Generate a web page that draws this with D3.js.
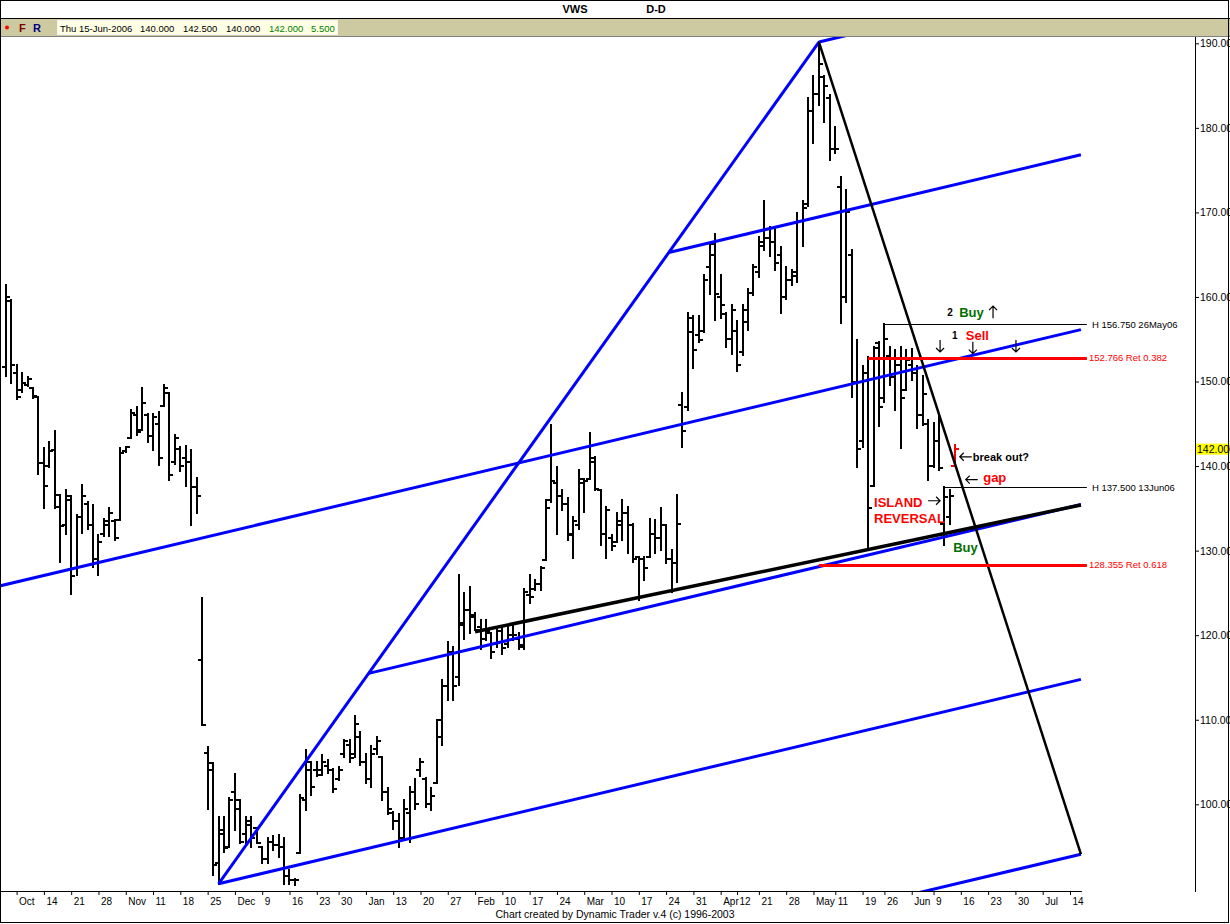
<!DOCTYPE html>
<html><head><meta charset="utf-8"><title>VWS D-D</title>
<script src="https://cdn.jsdelivr.net/npm/d3@7/dist/d3.min.js"></script>
<style>
html,body{margin:0;padding:0;background:#fff;}
svg{display:block;}
text{font-family:"Liberation Sans",Arial,"DejaVu Sans",sans-serif;}
</style></head><body>
<svg id="chart" width="1230" height="924"></svg>
<script>
// ================= DATA =================
const symbol = "VWS";
const period = "D-D";
const headerDate = "Thu 15-Jun-2006";
const headerValues = ["140.000", "142.500", "140.000", "142.000", "5.500"];
const footer = "Chart created by Dynamic Trader v.4  (c) 1996-2003";

const firstDate = "2005-10-05";
const lastCalendarDate = "2006-07-31";
const holidays = ["2005-12-26", "2006-04-13", "2006-04-14", "2006-04-17", "2006-05-12", "2006-05-25", "2006-06-05"];

// daily bars [open, high, low, close], one per trading day from firstDate
const ohlc = [
[151.7,161.4,150.6,160.0],[159.5,159.7,149.8,152.0],[151.0,152.0,147.9,148.2],[149.0,151.0,148.8,149.8],
[149.6,150.5,149.5,150.3],[149.2,149.2,148.0,148.3],[148.2,148.2,139.1,140.4],[140.4,142.1,135.1,137.7],
[140.0,142.8,139.9,141.8],[141.9,144.1,135.1,136.6],[135.2,136.6,128.6,132.9],[133.0,137.2,132.0,136.5],
[136.0,136.5,124.9,127.0],[128.0,134.2,127.1,134.0],[134.0,137.8,132.1,136.5],[135.5,135.8,132.5,133.0],
[133.0,135.4,128.1,129.0],[129.0,131.9,127.1,131.0],[132.0,133.8,131.7,133.5],[133.0,135.0,131.7,134.5],
[133.5,133.6,131.3,131.5],[133.6,142.1,133.6,141.6],[141.8,142.3,141.7,142.2],[143.3,146.6,143.3,146.3],
[146.0,147.0,143.7,144.0],[144.3,149.2,144.3,147.5],[146.0,146.2,142.9,143.5],[143.5,146.2,141.9,145.8],
[145.0,146.4,140.1,141.0],[147.1,149.6,147.1,149.2],[148.7,148.7,138.4,139.0],[140.5,143.7,140.3,143.3],
[142.0,142.3,139.4,140.0],[141.0,142.4,137.6,140.5],[140.5,141.9,133.0,137.5],[137.5,138.6,134.5,136.5],
[117.1,124.4,109.4,109.4],[106.1,106.8,99.5,104.0],[104.9,104.9,91.6,92.8],[93.0,98.5,90.6,96.5],
[97.0,98.5,94.4,94.8],[95.0,100.8,95.0,100.5],[101.5,103.6,97.0,99.5],[100.5,100.5,95.4,95.6],
[96.5,98.5,95.2,98.0],[97.5,98.5,95.0,96.0],[97.2,97.2,95.4,95.4],[95.0,95.0,93.0,93.5],
[93.5,96.0,93.0,95.5],[95.5,96.2,94.6,95.2],[95.2,96.4,93.8,95.0],[95.0,96.0,90.6,91.5],
[91.5,92.2,90.6,91.0],[91.0,91.2,90.5,91.0],[94.2,101.1,94.2,100.8],[100.5,106.4,99.3,105.0],
[104.0,105.0,101.1,102.0],[104.0,105.0,103.3,103.5],[104.0,105.8,103.5,105.0],[104.5,105.2,103.7,104.0],
[104.0,104.2,101.5,101.8],[103.0,104.4,102.9,104.0],[106.0,107.6,105.6,107.5],[107.0,107.6,105.0,105.5],
[106.0,110.4,105.6,109.5],[108.0,108.6,104.6,105.0],[105.0,106.0,102.5,103.0],[103.0,106.9,102.1,106.0],
[106.5,108.0,106.0,107.5],[105.6,105.6,100.5,101.5],[101.5,101.9,98.9,99.5],[99.0,99.1,97.1,98.0],
[98.0,98.9,95.0,96.0],[96.0,100.5,95.8,99.5],[99.0,102.1,95.6,101.5],[101.5,103.0,99.5,100.0],
[104.0,105.4,103.3,105.0],[103.0,103.1,99.7,100.0],[100.0,101.9,99.3,101.0],[102.5,110.0,102.5,110.0],
[108.0,114.7,107.0,114.0],[114.0,119.2,112.3,118.0],[118.0,118.6,112.3,114.0],[115.0,127.1,114.1,121.2],
[121.5,125.0,119.6,123.0],[123.0,125.7,120.2,122.4],[122.2,122.6,120.6,120.6],[121.0,121.8,118.4,119.5],
[119.5,121.8,119.4,120.5],[120.2,120.2,117.3,118.0],[119.0,121.0,118.6,120.5],[120.5,121.0,117.8,118.5],
[119.0,121.0,118.6,120.0],[120.0,121.1,119.4,120.0],[119.5,120.2,118.4,118.8],[118.6,125.5,118.4,125.1],
[124.8,127.1,123.8,124.5],[125.5,126.5,125.3,126.0],[126.0,128.1,125.3,128.0],[128.9,136.0,128.9,135.0],
[136.0,144.9,135.8,138.2],[138.0,139.9,132.0,136.5],[136.5,137.2,134.8,135.5],[135.5,136.2,131.3,131.8],
[132.0,134.0,129.1,133.5],[133.0,139.5,132.6,138.5],[138.0,138.5,134.6,138.2],[138.5,143.9,138.5,141.0],
[140.5,141.1,137.2,137.3],[137.2,137.2,130.7,132.0],[132.0,135.2,129.1,134.8],[131.5,131.8,130.1,130.5],
[131.0,134.5,131.0,133.5],[133.0,136.0,131.3,134.5],[134.5,135.2,129.7,133.0],[133.0,133.2,128.7,129.0],
[129.3,129.3,124.2,129.0],[129.0,129.3,126.5,128.0],[129.3,133.8,129.3,132.0],[132.0,133.6,129.7,131.5],
[131.5,135.0,130.1,133.0],[133.0,133.0,128.5,129.0],[129.0,130.1,125.1,128.5],[128.5,136.6,126.3,133.2],
[147.2,148.6,142.3,144.1],[147.0,158.1,146.6,157.5],[155.9,157.7,151.6,153.7],[155.5,157.7,154.7,154.9],
[156.0,162.6,155.9,162.0],[163.5,166.3,160.4,165.0],[166.3,167.4,157.3,160.4],[160.0,162.6,157.5,159.0],
[158.0,158.1,154.1,155.0],[155.0,159.1,153.3,158.5],[156.0,157.1,151.2,152.0],[153.5,159.1,153.1,158.5],
[157.0,161.0,156.1,160.5],[160.5,163.8,160.2,163.5],[163.0,167.1,162.4,166.5],[166.0,171.3,165.6,167.0],
[167.0,168.3,164.8,166.5],[166.5,168.3,163.2,164.0],[165.0,165.9,158.1,160.0],[160.0,163.6,159.8,162.0],
[162.0,163.2,161.4,162.5],[163.0,169.9,161.8,169.0],[169.0,171.3,166.0,170.5],[171.0,183.5,170.7,182.0],
[182.0,186.1,178.2,184.0],[184.0,190.2,182.7,187.5],[186.0,186.1,180.7,185.0],[183.5,183.9,176.2,177.5],
[177.5,180.1,177.0,177.5],[173.0,174.2,156.9,160.0],[160.0,172.6,159.4,170.0],[165.0,165.6,148.2,150.0],
[150.0,154.9,139.9,142.0],[143.0,151.8,142.3,151.0],[151.0,152.9,130.1,135.0],[137.6,154.1,137.6,154.0],
[154.5,154.7,144.7,147.0],[148.0,156.75,147.6,155.0],[153.0,154.1,149.6,150.5],[150.5,153.7,146.6,152.0],
[152.0,154.1,142.1,148.0],[149.0,153.7,149.0,152.5],[152.0,153.9,150.2,151.0],[151.0,151.8,144.5,146.0],
[146.0,150.6,144.9,148.5],[145.0,145.5,138.4,140.0],[140.0,145.1,139.9,143.0],[143.0,145.9,139.5,139.8],
[133.2,137.5,130.7,136.3],[134.0,137.2,133.2,136.5],[140.0,142.5,140.0,142.0]
];

const priceTicks = [100, 110, 120, 130, 140, 150, 160, 170, 180, 190];
const lastPrice = 142.0;

const dateTicks = ["2005-10-07","2005-10-14","2005-10-21","2005-10-28","2005-11-04","2005-11-11","2005-11-18","2005-11-25",
  "2005-12-02","2005-12-09","2005-12-16","2005-12-23","2005-12-30","2006-01-06","2006-01-13","2006-01-20","2006-01-27",
  "2006-02-03","2006-02-10","2006-02-17","2006-02-24","2006-03-03","2006-03-10","2006-03-17","2006-03-24","2006-03-31",
  "2006-04-07","2006-04-12","2006-04-21","2006-04-28","2006-05-05","2006-05-11","2006-05-19","2006-05-26",
  "2006-06-02","2006-06-09","2006-06-16","2006-06-23","2006-06-30","2006-07-07","2006-07-14"];
const dateTickLabels = ["Oct","14","21","28","Nov","11","18","25","Dec","9","16","23","30","Jan","13","20","27",
  "Feb","10","17","24","Mar","10","17","24","31","Apr","12","21","28","May","11","19","26","Jun","9","16","23","30","Jul","14"];

// drawing tools (date, price)
const channelLow = ["2005-11-29", 90.6];
const channelHigh = ["2006-05-08", 190.15];
const channelSlope = 0.153;            // price per trading day
const channelLevels = [0, 1, 2, 3, 4, 5];
const channelStart = ["high", "fan", "left", "fan", "low", "left"];
const toolsEnd = "2006-07-18";
const trendLine = [["2006-02-03", 120.4], ["2006-07-18", 135.4]];
const retracements = [
  {value: 152.766, label: "152.766 Ret 0.382", from: "2006-05-22"},
  {value: 128.355, label: "128.355 Ret 0.618", from: "2006-05-08"}];
const highMarks = [
  {value: 156.75, label: "H 156.750 26May06", from: "2006-05-26"},
  {value: 137.5, label: "H 137.500 13Jun06", from: "2006-06-13"}];

// text notes: [text, trading-day index, price, colour, size, weight]
const notes = [
  ["2", 172.5, 157.7, "#000", 10, "bold"],
  ["Buy", 174.7, 157.6, "#007000", 13, "bold"],
  ["1", 173.4, 155.0, "#000", 10, "bold"],
  ["Sell", 175.9, 154.9, "#ff0000", 13, "bold"],
  ["ISLAND", 159.1, 135.2, "#ff0000", 13, "bold"],
  ["REVERSAL", 159.1, 133.3, "#ff0000", 13, "bold"],
  ["break out?", 177.2, 140.6, "#000", 11, "bold"],
  ["gap", 179.1, 138.1, "#ff0000", 13, "bold"],
  ["Buy", 173.6, 129.8, "#007000", 13, "bold"]
];
// arrows: [direction, trading-day index, price (centre)]
const arrows = [
  ["up", 180.9, 158.2], ["down", 171.2, 154.2], ["down", 177.2, 154.0], ["down", 185.1, 154.2],
  ["right", 170.1, 135.9], ["left", 175.9, 141.1], ["left", 177.0, 138.4]
];

// ================= LAYOUT =================
const svg = d3.select("#chart");
const plot = {left: 1, top: 37, right: 1195, bottom: 891};

// trading-day calendar
const days = [];
{
  let t = Date.parse(firstDate + "T00:00:00Z");
  const end = Date.parse(lastCalendarDate + "T00:00:00Z");
  while (t <= end) {
    const d = new Date(t);
    const s = d.toISOString().slice(0, 10);
    const w = d.getUTCDay();
    if (w !== 0 && w !== 6 && !holidays.includes(s)) days.push(s);
    t += 86400000;
  }
}
const dayIndex = new Map(days.map((d, i) => [d, i]));
const di = s => dayIndex.get(s);

const x = d3.scaleLinear().domain([0, 190]).range([5.68, 5.68 + 190 * 5.458]);
const y = d3.scaleLinear().domain([100, 190]).range([804.3, 43.3]);

// background
svg.append("rect").attr("width", 1230).attr("height", 924).attr("fill", "#fff");

// header
svg.append("text").attr("x", 575).attr("y", 13).attr("text-anchor", "middle")
  .attr("font-size", 11).attr("font-weight", "bold").text(symbol);
svg.append("text").attr("x", 656).attr("y", 13).attr("text-anchor", "middle")
  .attr("font-size", 11).attr("font-weight", "bold").text(period);
svg.append("rect").attr("x", 0).attr("y", 19).attr("width", 1230).attr("height", 17).attr("fill", "#cdc9a1");
svg.append("line").attr("x1", 0).attr("x2", 1230).attr("y1", 18.5).attr("y2", 18.5).attr("stroke", "#000");
svg.append("line").attr("x1", 0).attr("x2", 1230).attr("y1", 36.5).attr("y2", 36.5).attr("stroke", "#808080");
svg.append("rect").attr("x", 57.5).attr("y", 20.5).attr("width", 280).attr("height", 14)
  .attr("fill", "#ffffe6").attr("stroke", "#f4f4f4");
svg.append("circle").attr("cx", 7).attr("cy", 27.5).attr("r", 2).attr("fill", "#ff0000");
svg.append("text").attr("x", 19).attr("y", 32).attr("font-size", 11).attr("font-weight", "bold").attr("fill", "#800000").text("F");
svg.append("text").attr("x", 33).attr("y", 32).attr("font-size", 11).attr("font-weight", "bold").attr("fill", "#000080").text("R");
const hdr = svg.append("text").attr("x", 60).attr("y", 31.5).attr("font-size", 9.5);
hdr.append("tspan").attr("fill", "#000").text(headerDate);
const hx = [140, 183, 226, 269, 311];
headerValues.forEach((v, i) => hdr.append("tspan").attr("x", hx[i]).attr("fill", i >= 3 ? "#008000" : "#000").text(v));

// clip
svg.append("clipPath").attr("id", "plotclip").append("rect")
  .attr("x", plot.left).attr("y", plot.top).attr("width", plot.right - plot.left).attr("height", plot.bottom - plot.top);
const P = svg.append("g").attr("clip-path", "url(#plotclip)");

// bars
const bars = ohlc.map((d, j) => ({j, o: d[0], h: d[1], l: d[2], c: d[3]}));
const gb = P.append("g").attr("shape-rendering", "crispEdges");
bars.forEach((d, k) => {
  const X = Math.round(x(d.j));
  const col = k === bars.length - 1 ? "#ff0000" : "#000";
  gb.append("line").attr("x1", X).attr("x2", X).attr("y1", y(d.h) - 1).attr("y2", y(d.l) + 1).attr("stroke", col).attr("stroke-width", 2);
  gb.append("line").attr("x1", X - 4).attr("x2", X).attr("y1", Math.round(y(d.o))).attr("y2", Math.round(y(d.o))).attr("stroke", col).attr("stroke-width", 2);
  gb.append("line").attr("x1", X).attr("x2", X + 4).attr("y1", Math.round(y(d.c))).attr("y2", Math.round(y(d.c))).attr("stroke", col).attr("stroke-width", 2);
});

// channel / fan lines
const jA = di(channelLow[0]), pA = channelLow[1];
const jB = di(channelHigh[0]), pB = channelHigh[1];
const jEnd = di(toolsEnd);
const step = (pB - (pA + channelSlope * (jB - jA))) / 4;
const fanSlope = (pB - pA) / (jB - jA);
const lineP = (n, j) => pB - n * step + channelSlope * (j - jB);
const gl = P.append("g").attr("fill", "none");
gl.append("line").attr("x1", x(jA)).attr("y1", y(pA)).attr("x2", x(jB)).attr("y2", y(pB))
  .attr("stroke", "#0000ff").attr("stroke-width", 3);
channelLevels.forEach((n, k) => {
  let j0;
  if (channelStart[k] === "high") j0 = jB;
  else if (channelStart[k] === "low") j0 = jA;
  else if (channelStart[k] === "left") j0 = -1;
  else j0 = (pB - n * step - channelSlope * jB - pA + fanSlope * jA) / (fanSlope - channelSlope);
  gl.append("line").attr("x1", x(j0)).attr("y1", y(lineP(n, j0))).attr("x2", x(jEnd)).attr("y2", y(lineP(n, jEnd)))
    .attr("stroke", "#0000ff").attr("stroke-width", 3);
});
// black trend line
gl.append("line").attr("x1", x(di(trendLine[0][0]))).attr("y1", y(trendLine[0][1]))
  .attr("x2", x(di(trendLine[1][0]))).attr("y2", y(trendLine[1][1]))
  .attr("stroke", "#000").attr("stroke-width", 3.5);
// black steep line from the high
gl.append("line").attr("x1", x(jB)).attr("y1", y(pB)).attr("x2", x(jEnd)).attr("y2", y(lineP(5, jEnd)))
  .attr("stroke", "#000").attr("stroke-width", 2.5);

// retracement lines
retracements.forEach(r => {
  gl.append("line").attr("x1", x(di(r.from))).attr("x2", x(jEnd) + 6).attr("y1", Math.round(y(r.value)) + 0.5).attr("y2", Math.round(y(r.value)) + 0.5)
    .attr("stroke", "#ff0000").attr("stroke-width", 3);
});
// high marks
highMarks.forEach(h => {
  gl.append("line").attr("x1", x(di(h.from))).attr("x2", x(jEnd) + 6).attr("y1", Math.round(y(h.value)) + 0.5).attr("y2", Math.round(y(h.value)) + 0.5)
    .attr("stroke", "#000").attr("stroke-width", 1);
});

// labels at right of tools
retracements.forEach(r => {
  P.append("text").attr("x", x(jEnd) + 8).attr("y", y(r.value)).attr("dy", "0.35em")
    .attr("font-size", 9.5).attr("fill", "#ff0000").text(r.label);
});
highMarks.forEach(h => {
  P.append("text").attr("x", x(jEnd) + 11).attr("y", y(h.value)).attr("dy", "0.35em")
    .attr("font-size", 9.5).attr("fill", "#000").text(h.label);
});

// notes
notes.forEach(n => {
  P.append("text").attr("x", x(n[1])).attr("y", y(n[2])).attr("fill", n[3])
    .attr("font-size", n[4]).attr("font-weight", n[5]).text(n[0]);
});
// arrows
const ga = P.append("g").attr("stroke", "#000").attr("stroke-width", 1.2).attr("fill", "none");
arrows.forEach(a => {
  const cx = x(a[1]), cy = y(a[2]), L = 6, hd = 4;
  let d;
  if (a[0] === "down") d = `M${cx},${cy - L}V${cy + L}M${cx - hd},${cy + L - hd}L${cx},${cy + L}L${cx + hd},${cy + L - hd}`;
  else if (a[0] === "up") d = `M${cx},${cy + L}V${cy - L}M${cx - hd},${cy - L + hd}L${cx},${cy - L}L${cx + hd},${cy - L + hd}`;
  else if (a[0] === "right") d = `M${cx - L},${cy}H${cx + L}M${cx + L - hd},${cy - hd}L${cx + L},${cy}L${cx + L - hd},${cy + hd}`;
  else d = `M${cx + L},${cy}H${cx - L}M${cx - L + hd},${cy - hd}L${cx - L},${cy}L${cx - L + hd},${cy + hd}`;
  ga.append("path").attr("d", d);
});

// ---------- axes ----------
// right price axis
svg.append("line").attr("x1", plot.right + 0.5).attr("x2", plot.right + 0.5).attr("y1", plot.top).attr("y2", plot.bottom + 1)
  .attr("stroke", "#000");
const yAxis = d3.axisRight(y).tickValues(priceTicks).tickFormat(d3.format(".3f")).tickSize(4).tickPadding(1);
const ya = svg.append("g").attr("transform", `translate(${plot.right},0)`).call(yAxis);
ya.select(".domain").remove();
ya.attr("font-family", null).attr("font-size", null);
ya.selectAll("text").attr("font-size", 10.5).attr("fill", "#000");
ya.selectAll("line").attr("stroke", "#000");
// current price marker
svg.append("rect").attr("x", plot.right + 1).attr("y", y(lastPrice) - 5.5).attr("width", 40).attr("height", 11).attr("fill", "#ffff00");
svg.append("text").attr("x", plot.right + 2).attr("y", y(lastPrice)).attr("dy", "0.35em").attr("font-size", 10.5).text(d3.format(".3f")(lastPrice));

// bottom date axis
svg.append("line").attr("x1", 0).attr("x2", x(jEnd) + 1).attr("y1", plot.bottom + 0.5).attr("y2", plot.bottom + 0.5).attr("stroke", "#000");
const xAxis = d3.axisBottom(x).tickValues(dateTicks.map(di)).tickFormat((d, i) => dateTickLabels[i]).tickSize(4).tickPadding(3);
const xa = svg.append("g").attr("transform", `translate(0,${plot.bottom})`).call(xAxis);
xa.select(".domain").remove();
xa.attr("font-family", null).attr("font-size", null);
xa.selectAll("line").attr("stroke", "#000");
xa.selectAll("text").attr("font-size", 10).attr("fill", "#000").attr("text-anchor", "start").attr("dx", 2);

// footer
svg.append("text").attr("x", 615).attr("y", 918).attr("text-anchor", "middle").attr("font-size", 10.5).text(footer);

// outer frame
svg.append("rect").attr("x", 0.5).attr("y", 0.5).attr("width", 1228).attr("height", 922)
  .attr("fill", "none").attr("stroke", "#000");
</script>
</body></html>
